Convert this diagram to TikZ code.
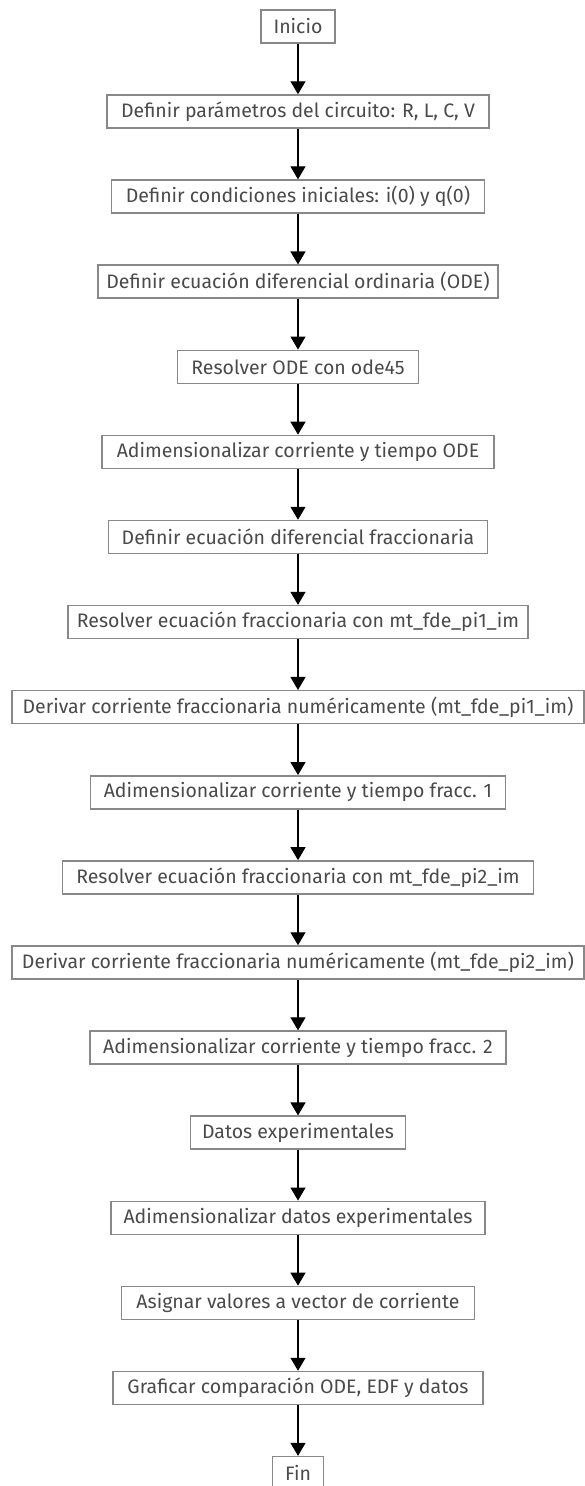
\documentclass[tikz,border=0pt]{standalone}
\usepackage{fontspec}
\setmainfont{Fira Sans}
\usetikzlibrary{arrows.meta}
\definecolor{boxline}{HTML}{888888}
\definecolor{boxtext}{HTML}{4A4A4A}

\begin{document}
\begin{tikzpicture}[
  x=1pt, y=1pt,
  font=\fontsize{19.5}{22}\selectfont,
  box/.style={draw=boxline, line width=1.5pt, text=boxtext, fill=white,
    minimum height=33pt, inner xsep=0pt, align=center},
  arr/.style={-{Triangle[length=13pt, width=15pt]}, line width=1.2pt, black}
]
\useasboundingbox (0,0) rectangle (585,-1486);

% start and circuit setup
\node[box, minimum width=74pt]  (inicio)  at (298,-26.4)  {Inicio};
\node[box, minimum width=382pt] (params)  at (298,-111.5) {Definir parámetros del circuito: R, L, C, V};
\node[box, minimum width=373pt] (condini) at (298,-196.6) {Definir condiciones iniciales: i(0) y q(0)};

% ordinary model
\node[box, minimum width=400pt] (ecode)   at (298,-281.7) {Definir ecuación diferencial ordinaria (ODE)};
\node[box, minimum width=241pt] (solode)  at (298,-366.8) {Resolver ODE con ode45};
\node[box, minimum width=392pt] (adimode) at (298,-451.9) {Adimensionalizar corriente y tiempo ODE};

% fractional model, pi1 and pi2
\node[box, minimum width=379pt] (ecfrac)  at (298,-537.0) {Definir ecuación diferencial fraccionaria};
\node[box, minimum width=460pt] (solpi1)  at (298,-622.1) {Resolver ecuación fraccionaria con mt\_fde\_pi1\_im};
\node[box, minimum width=572pt] (derpi1)  at (298,-707.2) {Derivar corriente fraccionaria numéricamente (mt\_fde\_pi1\_im)};
\node[box, minimum width=415pt] (adimf1)  at (298,-792.3) {Adimensionalizar corriente y tiempo fracc. 1};
\node[box, minimum width=471pt] (solpi2)  at (298,-877.4) {Resolver ecuación fraccionaria con mt\_fde\_pi2\_im};
\node[box, minimum width=572pt] (derpi2)  at (298,-962.5) {Derivar corriente fraccionaria numéricamente (mt\_fde\_pi2\_im)};
\node[box, minimum width=416pt] (adimf2)  at (298,-1047.6) {Adimensionalizar corriente y tiempo fracc. 2};

% measured data and plot
\node[box, minimum width=215pt] (datos)   at (298,-1132.7) {Datos experimentales};
\node[box, minimum width=374pt] (adimdat) at (298,-1217.8) {Adimensionalizar datos experimentales};
\node[box, minimum width=353pt] (asignar) at (298,-1302.9) {Asignar valores a vector de corriente};
\node[box, minimum width=370pt] (graf)    at (298,-1388.0) {Graficar comparación ODE, EDF y datos};
\node[box, minimum width=51pt]  (fin)     at (298,-1473.1) {Fin};

% connectors
\draw[arr] (inicio)  -- (params);
\draw[arr] (params)  -- (condini);
\draw[arr] (condini) -- (ecode);
\draw[arr] (ecode)   -- (solode);
\draw[arr] (solode)  -- (adimode);
\draw[arr] (adimode) -- (ecfrac);
\draw[arr] (ecfrac)  -- (solpi1);
\draw[arr] (solpi1)  -- (derpi1);
\draw[arr] (derpi1)  -- (adimf1);
\draw[arr] (adimf1)  -- (solpi2);
\draw[arr] (solpi2)  -- (derpi2);
\draw[arr] (derpi2)  -- (adimf2);
\draw[arr] (adimf2)  -- (datos);
\draw[arr] (datos)   -- (adimdat);
\draw[arr] (adimdat) -- (asignar);
\draw[arr] (asignar) -- (graf);
\draw[arr] (graf)    -- (fin);

\end{tikzpicture}
\end{document}
